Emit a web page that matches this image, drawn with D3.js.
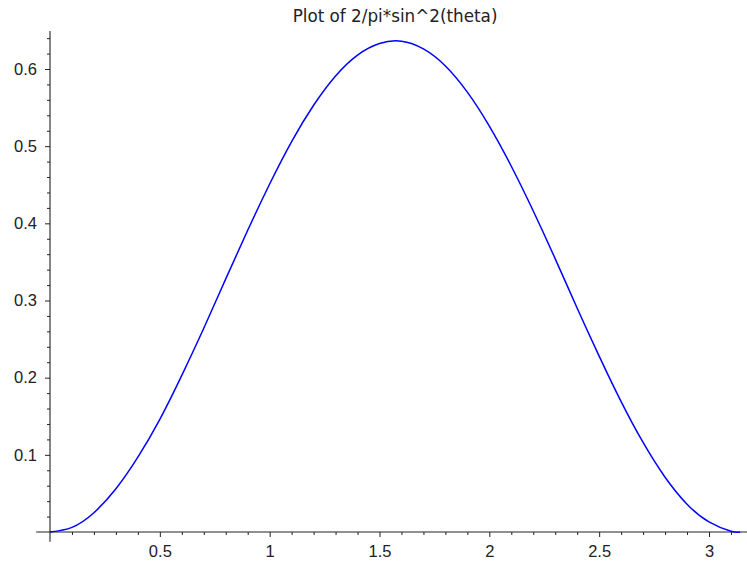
<!DOCTYPE html>
<html>
<head>
<meta charset="utf-8">
<script src="https://cdn.jsdelivr.net/npm/d3@7"></script>
<style>
  body { margin: 0; background: #fff; }
  svg { display: block; font-family: "DejaVu Sans", sans-serif; }
  .tick text { fill: #222; font-size: 16.5px; }
  .tick line { stroke: #222; }
</style>
</head>
<body>
<svg id="chart"></svg>
<script>
// Width and height of the picture
var width = 747, height = 561;

// theta values and the curve
var thetas = [0, 0.1, 0.2, 0.3, 0.4, 0.5, 0.6, 0.7, 0.8, 0.9, 1.0, 1.1, 1.2, 1.3, 1.4, 1.5, 1.6,
              1.7, 1.8, 1.9, 2.0, 2.1, 2.2, 2.3, 2.4, 2.5, 2.6, 2.7, 2.8, 2.9, 3.0, 3.1, 3.1416];
var values = [0, 0.006, 0.025, 0.056, 0.097, 0.146, 0.203, 0.264, 0.328, 0.391, 0.451, 0.506, 0.553,
              0.591, 0.618, 0.633, 0.636, 0.626, 0.604, 0.570, 0.526, 0.474, 0.416, 0.354, 0.290,
              0.228, 0.169, 0.116, 0.071, 0.036, 0.013, 0.001, 0];

// tick labels
var xMajor = [0.5, 1, 1.5, 2, 2.5, 3];
var yMajor = [0.1, 0.2, 0.3, 0.4, 0.5, 0.6];
var xMinor = d3.range(1, 33).map(d => d / 10).filter(d => Math.round(d * 10) % 5 !== 0);
var yMinor = d3.range(1, 33).map(d => d / 50).filter(d => Math.round(d * 50) % 5 !== 0);

var title = "Plot of 2/pi*sin^2(theta)";

// axes range with the small padding round the data
var xmin = -0.0628, xmax = 3.2044, ymin = -0.0127, ymax = 0.6493;

var svg = d3.select("#chart")
  .attr("width", width)
  .attr("height", height);

var x = d3.scaleLinear().domain([0, 3]).range([50, 709]);
var y = d3.scaleLinear().domain([0, 0.6]).range([532, 69]);

// title
svg.append("text")
  .attr("x", (x(xmin) + x(xmax)) / 2)
  .attr("y", 22)
  .attr("text-anchor", "middle")
  .style("font-size", "16.8px")
  .style("fill", "#222")
  .text(title);

// minor ticks
svg.append("g")
  .attr("transform", "translate(0," + y(0) + ")")
  .call(d3.axisBottom(x).tickValues(xMinor).tickSize(3).tickFormat(""))
  .call(g => g.select(".domain").remove());

svg.append("g")
  .attr("transform", "translate(" + x(0) + ",0)")
  .call(d3.axisLeft(y).tickValues(yMinor).tickSize(3).tickFormat(""))
  .call(g => g.select(".domain").remove());

// major ticks and labels
svg.append("g")
  .attr("transform", "translate(0," + y(0) + ")")
  .call(d3.axisBottom(x).tickValues(xMajor).tickSize(5).tickPadding(8).tickFormat(d3.format("")))
  .call(g => g.select(".domain").remove());

svg.append("g")
  .attr("transform", "translate(" + x(0) + ",0)")
  .call(d3.axisLeft(y).tickValues(yMajor).tickSize(5).tickPadding(8).tickFormat(d3.format("")))
  .call(g => g.select(".domain").remove());

// axis lines crossing at the origin
svg.append("line")
  .attr("x1", x(xmin)).attr("x2", x(xmax))
  .attr("y1", y(0)).attr("y2", y(0))
  .attr("stroke", "#222").attr("stroke-width", 1.1);

svg.append("line")
  .attr("x1", x(0)).attr("x2", x(0))
  .attr("y1", y(ymin)).attr("y2", y(ymax))
  .attr("stroke", "#222").attr("stroke-width", 1.1);

// the curve
var line = d3.line()
  .x((d, i) => x(thetas[i]))
  .y(d => y(d))
  .curve(d3.curveNatural);

svg.append("path")
  .datum(values)
  .attr("fill", "none")
  .attr("stroke", "#0000ff")
  .attr("stroke-width", 1.5)
  .attr("d", line);
</script>
</body>
</html>
